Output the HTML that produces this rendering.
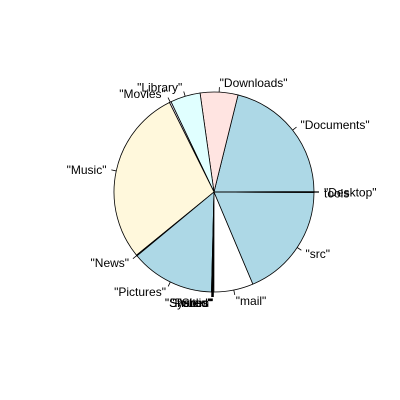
<!DOCTYPE html>
<html><head><meta charset="utf-8"><style>
html,body{margin:0;padding:0;background:#fff;width:400px;height:400px;overflow:hidden}
text{font-family:"Liberation Sans",sans-serif;font-size:12px;fill:#000}
</style></head><body>
<svg id="chart" width="400" height="400" xmlns="http://www.w3.org/2000/svg"></svg>
<script>
const categories = ["Desktop","Documents","Downloads","Library","Movies","Music","News","Pictures","Public","Shared","Sites","System","mail","src","tools"];
const values = [0.3,76,22,17.5,1,103,0.5,49,0.3,0.3,0.3,0.5,23,67,0.3];
const palette = ["#ffffff","#add8e6","#ffe4e1","#e0ffff","#e6e6fa","#fff8dc"];
const svg = document.getElementById('chart');
const NS = "http://www.w3.org/2000/svg";
const cx = 214, cy = 192, r = 100;
const total = values.reduce((a,b)=>a+b,0);
function pt(a, rr){ return [cx + rr*Math.cos(a), cy - rr*Math.sin(a)]; }
let acc = 0;
values.forEach((v,i)=>{
  const a0 = acc/total*2*Math.PI; acc += v;
  const a1 = acc/total*2*Math.PI;
  const p0 = pt(a0,r), p1 = pt(a1,r);
  const large = (a1-a0) > Math.PI ? 1 : 0;
  const path = document.createElementNS(NS,'path');
  path.setAttribute('d',`M${cx},${cy} L${p0[0]},${p0[1]} A${r},${r} 0 ${large} 0 ${p1[0]},${p1[1]} Z`);
  path.setAttribute('fill', palette[i % palette.length]);
  path.setAttribute('stroke','#000');
  path.setAttribute('stroke-width','0.8');
  
  
  svg.appendChild(path);
  const am = (a0+a1)/2;
  const l0 = pt(am,r), l1 = pt(am,r*1.05), lp = pt(am,r*1.1);
  const ln = document.createElementNS(NS,'line');
  ln.setAttribute('x1',l0[0]); ln.setAttribute('y1',l0[1]);
  ln.setAttribute('x2',l1[0]); ln.setAttribute('y2',l1[1]);
  ln.setAttribute('stroke','#000'); ln.setAttribute('stroke-width','0.8');
  
  
  svg.appendChild(ln);
  const t = document.createElementNS(NS,'text');
  t.setAttribute('x', lp[0]); t.setAttribute('y', lp[1]+5);
  t.setAttribute('text-anchor', Math.cos(am) > 0 ? 'start' : 'end');
  t.textContent = '"' + categories[i] + '"';
  if (categories[i] === 'tools') t.textContent = 'tools';
  
  
  svg.appendChild(t);
});
</script>
</body></html>
